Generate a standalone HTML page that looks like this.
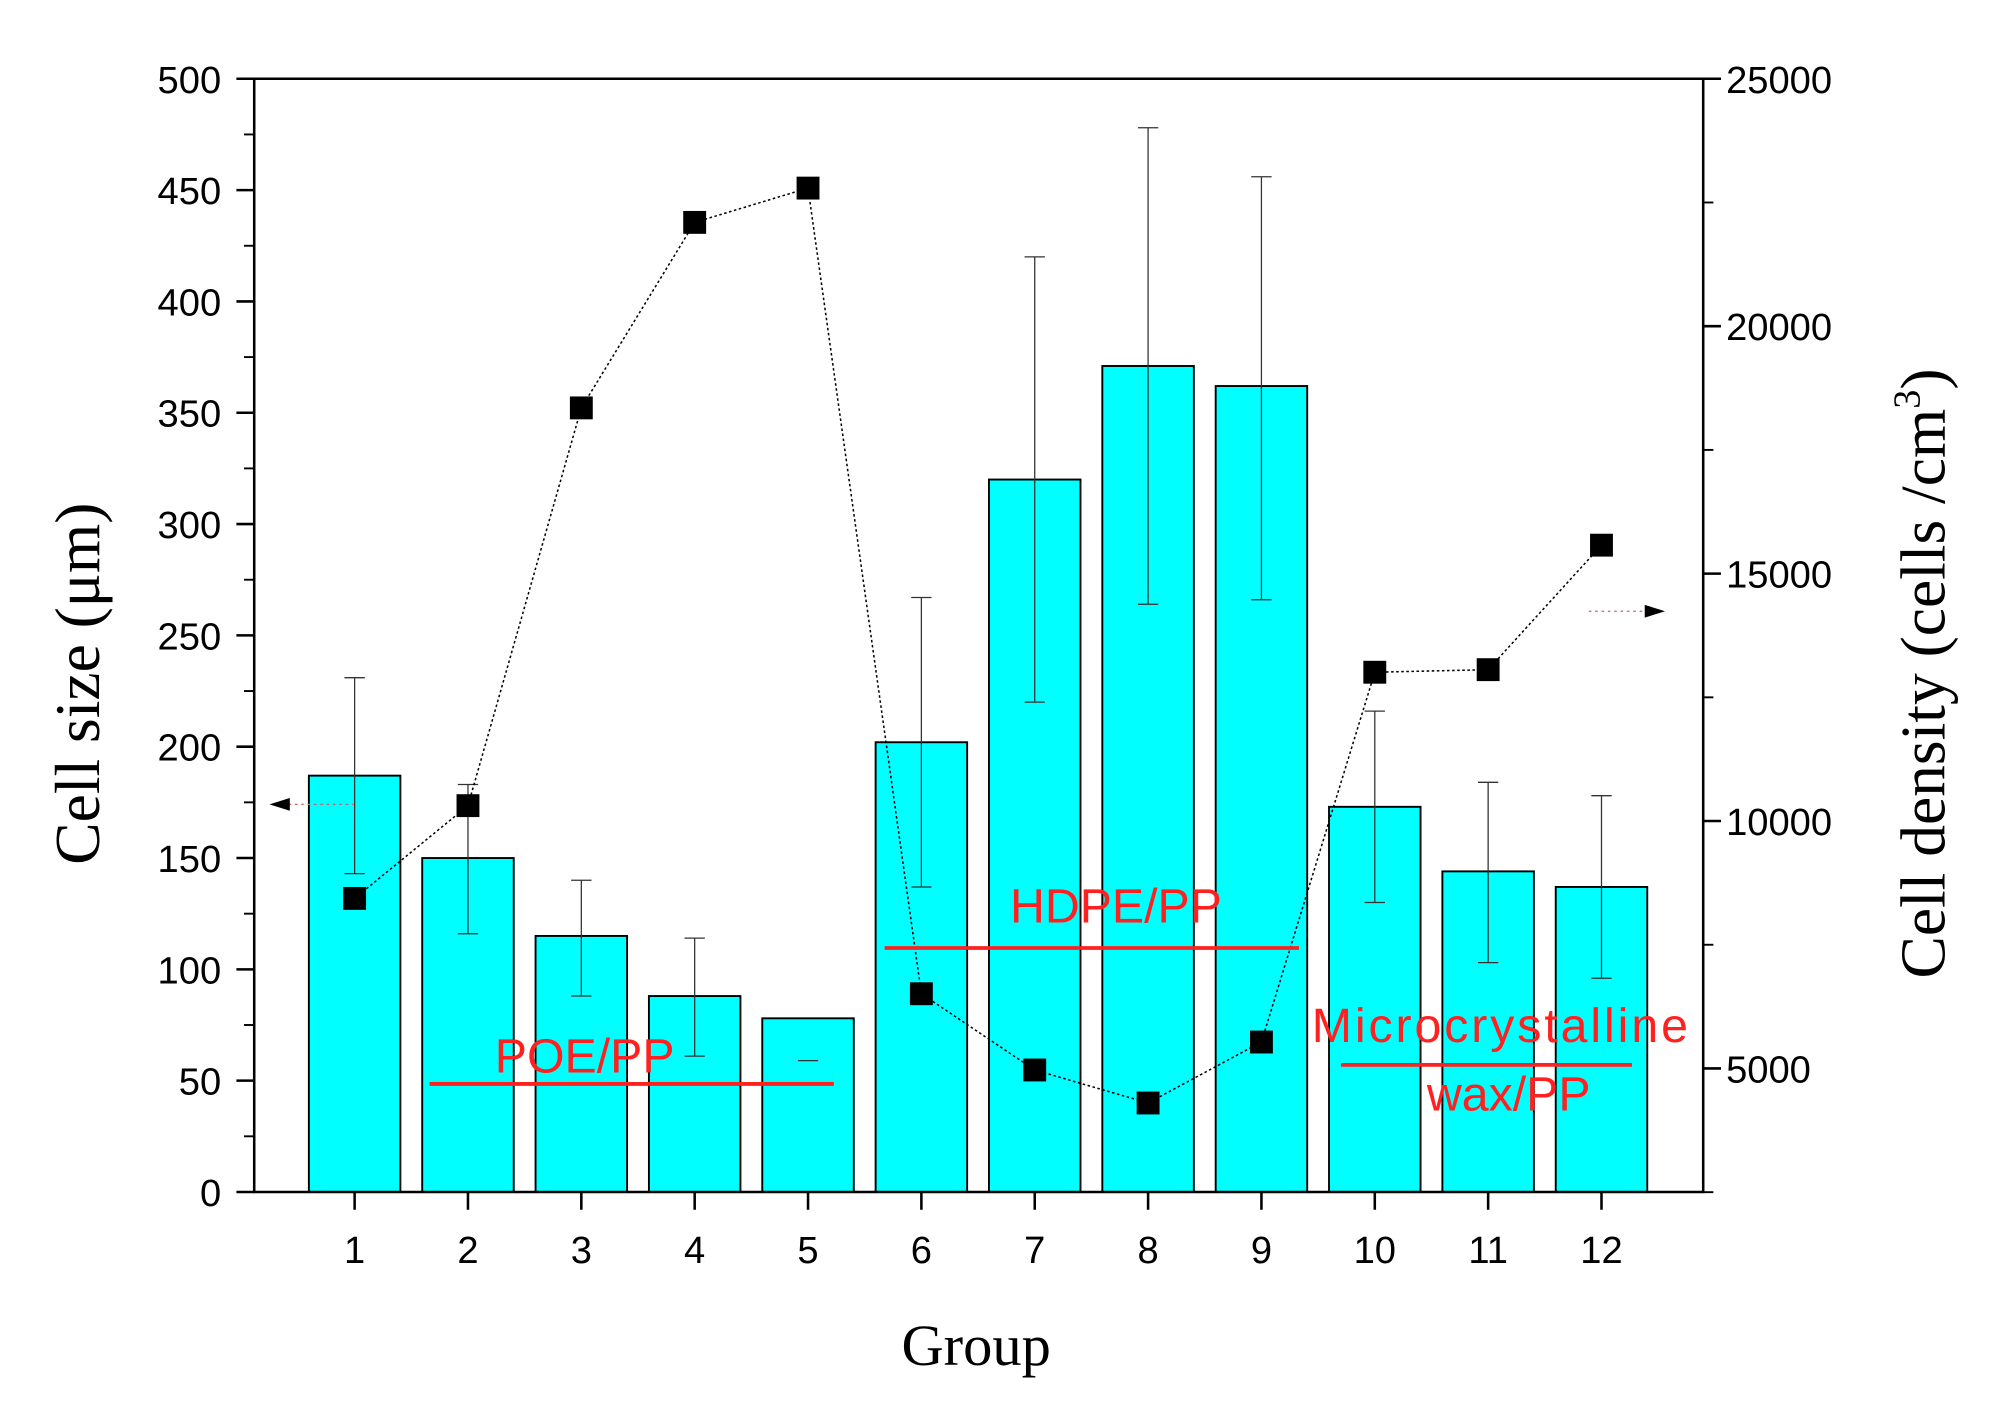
<!DOCTYPE html>
<html><head><meta charset="utf-8"><style>
html,body{margin:0;padding:0;background:#fff;}
svg{display:block;}
text{font-family:"Liberation Sans",sans-serif;}
</style></head><body>
<svg id="chart" width="1993" height="1408" viewBox="0 0 1568 1108" preserveAspectRatio="none" xmlns="http://www.w3.org/2000/svg">
<rect x="0" y="0" width="1568" height="1108" fill="#fff"/>
<g id="bars"></g>
<g id="errs"></g>
<g id="series"></g>
<g id="axes"></g>
<g>
 <text x="460" y="844" font-size="38" fill="#ff2020" text-anchor="middle">POE/PP</text>
 <line x1="338" y1="853" x2="656" y2="853" stroke="#ff2020" stroke-width="3"/>
 <text x="878" y="726" font-size="38" fill="#ff2020" text-anchor="middle">HDPE/PP</text>
 <line x1="696" y1="746" x2="1022" y2="746" stroke="#ff2020" stroke-width="3"/>
 <text x="1180" y="820" font-size="38" fill="#ff2020" text-anchor="middle" textLength="296">Microcrystalline</text>
 <line x1="1055" y1="838" x2="1284" y2="838" stroke="#ff2020" stroke-width="3"/>
 <text x="1187" y="874" font-size="38" fill="#ff2020" text-anchor="middle">wax/PP</text>
 <line x1="222" y1="633" x2="278" y2="633" stroke="#d06060" stroke-width="1" stroke-dasharray="2,3"/>
 <polygon points="212,633 228,628 228,638" fill="#000"/>
 <line x1="1250" y1="481" x2="1298" y2="481" stroke="#d06060" stroke-width="1" stroke-dasharray="2,3"/>
 <polygon points="1310,481 1294,476 1294,486" fill="#000"/>
</g>
<text transform="translate(78,538) rotate(-90)" font-size="50" text-anchor="middle" style="font-family:'Liberation Serif',serif">Cell size (μm)</text>
<text transform="translate(1530,530) rotate(-90)" font-size="50" text-anchor="middle" style="font-family:'Liberation Serif',serif">Cell density (cells /cm<tspan dy="-20" font-size="30">3</tspan><tspan dy="20">)</tspan></text>
<text x="768" y="1074" font-size="46" text-anchor="middle" style="font-family:'Liberation Serif',serif">Group</text>
<script>
const groups=[1,2,3,4,5,6,7,8,9,10,11,12];
const cellSize=[187,150,115,88,78,202,320,371,362,173,144,137];
const errUpper=[231,183,140,114,59,267,420,478,456,216,184,178];
const errLower=[143,116,88,61,59,137,220,264,266,130,103,96];
const density=[8436,10311,18349,22098,22791,6510,4969,4302,5534,13007,13059,15575];
const leftTicks=[0,50,100,150,200,250,300,350,400,450,500];
const rightTicks=[5000,10000,15000,20000,25000];
const NS="http://www.w3.org/2000/svg";
const L=200,R=1340,T=62,B=938;
const x=g=>279+(g-1)*89.18;
const y=v=>B-(v/500)*(B-T);
const y2=v=>T+(25000-v)/5000*194.7;
function mk(tag,parent,attrs){const e=document.createElementNS(NS,tag);for(const k in attrs)e.setAttribute(k,attrs[k]);parent.appendChild(e);return e;}
const bars=document.getElementById('bars'),errs=document.getElementById('errs'),ser=document.getElementById('series'),axes=document.getElementById('axes');
groups.forEach((g,i)=>{
 const r=mk('rect',bars,{x:x(g)-36,y:y(cellSize[i]),width:72,height:B-y(cellSize[i]),fill:'#00ffff',stroke:'#000','stroke-width':1.5});
 
 
 const e=mk('path',errs,{d:`M${x(g)},${y(errUpper[i])}V${y(errLower[i])}M${x(g)-8},${y(errUpper[i])}H${x(g)+8}M${x(g)-8},${y(errLower[i])}H${x(g)+8}`,stroke:'#333','stroke-width':1,fill:'none'});
 
 
});
let d='';groups.forEach((g,i)=>{d+=(i?'L':'M')+x(g)+','+y2(density[i]);});
const ln=mk('path',ser,{d:d,stroke:'#000','stroke-width':1.2,fill:'none','stroke-dasharray':'2,2'});


groups.forEach((g,i)=>{
 const p=mk('rect',ser,{x:x(g)-9,y:y2(density[i])-9,width:18,height:18,fill:'#000'});
 
 
});
const fr=mk('path',axes,{d:`M${L},${T}H${R}V${B}H${L}Z`,stroke:'#000','stroke-width':2,fill:'none'});


leftTicks.forEach(v=>{
 mk('line',axes,{x1:L-14,x2:L,y1:y(v),y2:y(v),stroke:'#000','stroke-width':2});
 if(v<500) mk('line',axes,{x1:L-8,x2:L,y1:y(v+25),y2:y(v+25),stroke:'#000','stroke-width':1.5});
 const t=mk('text',axes,{x:L-26,y:y(v)+11,'font-size':30,'text-anchor':'end'});t.textContent=v;
 
 
});
rightTicks.forEach(v=>{
 mk('line',axes,{x1:R,x2:R+14,y1:y2(v),y2:y2(v),stroke:'#000','stroke-width':2});
 mk('line',axes,{x1:R,x2:R+8,y1:y2(v-2500),y2:y2(v-2500),stroke:'#000','stroke-width':1.5});
 const t=mk('text',axes,{x:R+18,y:y2(v)+11,'font-size':30});t.textContent=v;
 
 
});
groups.forEach(g=>{
 mk('line',axes,{x1:x(g),x2:x(g),y1:B,y2:B+14,stroke:'#000','stroke-width':2});
 const t=mk('text',axes,{x:x(g),y:B+56,'font-size':30,'text-anchor':'middle'});t.textContent=g;
 
 
});
</script>
</svg>
</body></html>
